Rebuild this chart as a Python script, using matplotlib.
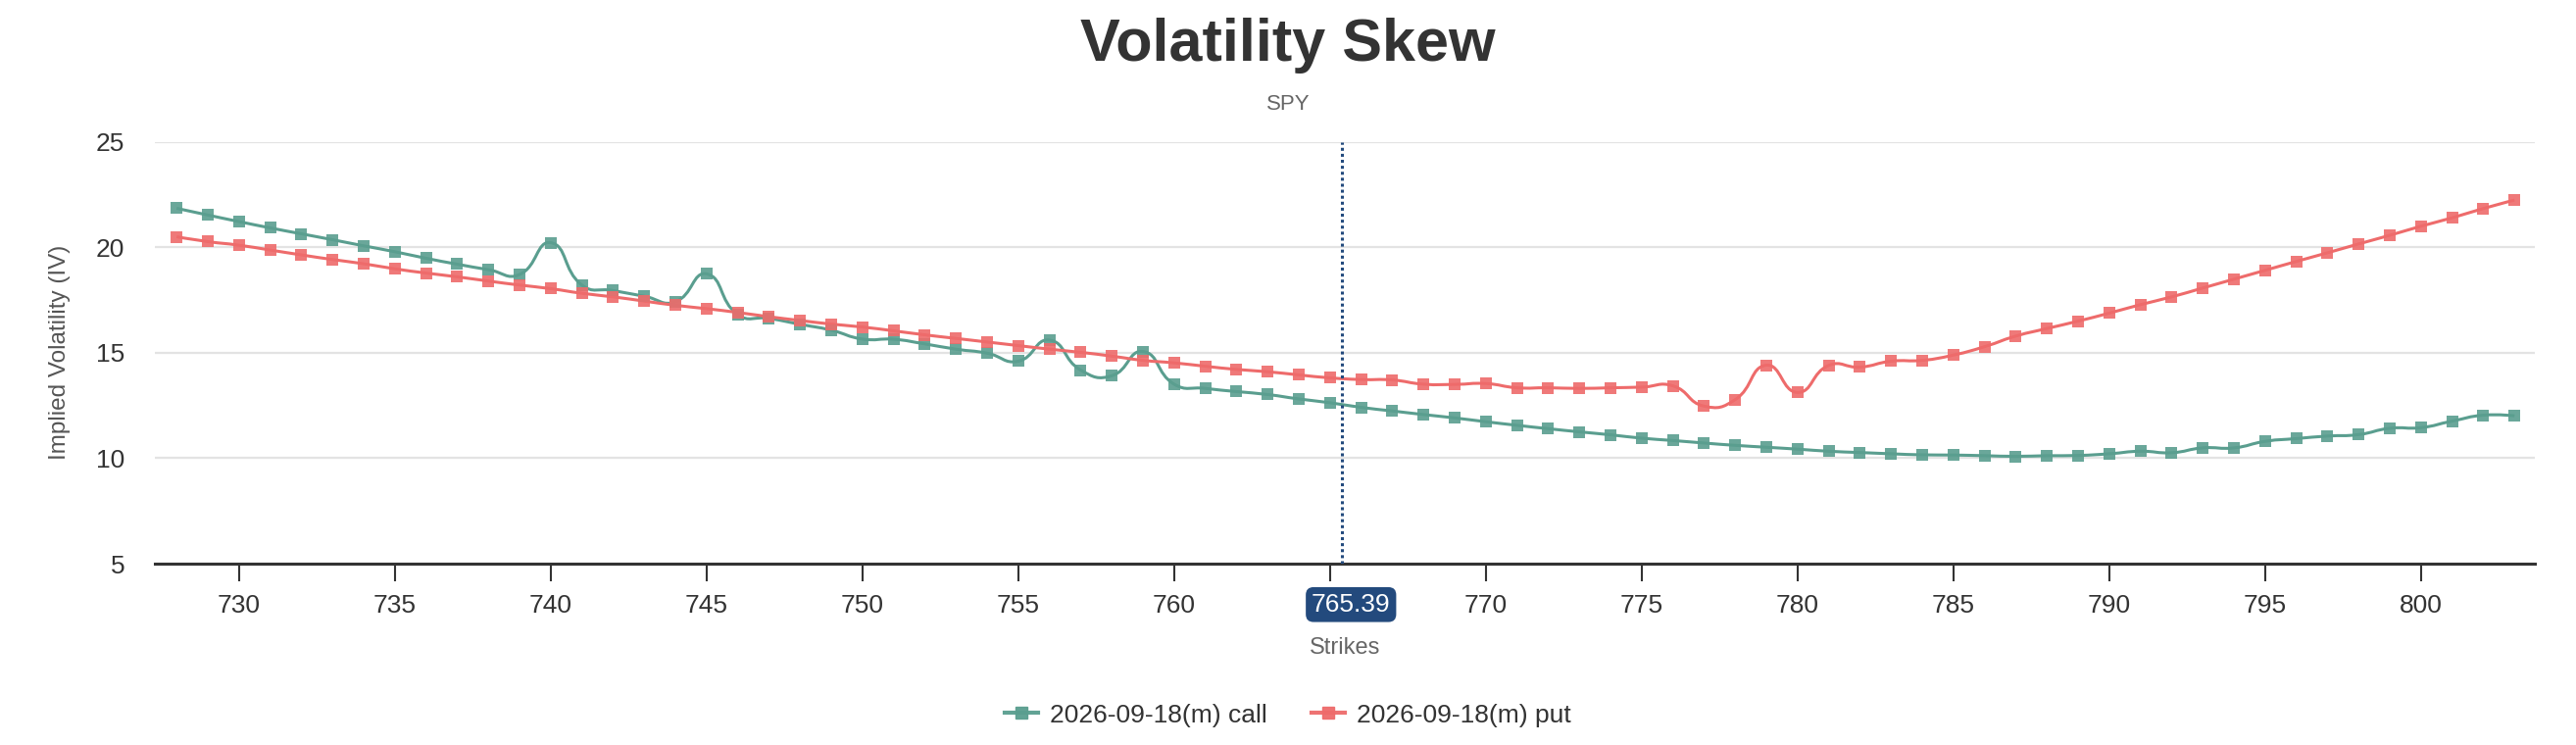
import numpy as np
import matplotlib.pyplot as plt
from matplotlib.path import Path
from matplotlib.patches import PathPatch
from matplotlib.lines import Line2D
from matplotlib.transforms import offset_copy

plt.rcParams['font.family'] = ['Liberation Sans', 'DejaVu Sans']

# datos
strikes = np.arange(728, 804)
iv_call = [
    21.85, 21.53, 21.22, 20.92, 20.64, 20.36, 20.07, 19.79, 19.48, 19.20,
    18.94, 18.71, 20.22, 18.21, 17.95, 17.68, 17.42, 18.74, 16.81, 16.63,
    16.35, 16.07, 15.65, 15.64, 15.42, 15.17, 14.98, 14.60, 15.60, 14.18,
    13.91, 15.06, 13.51, 13.31, 13.16, 13.02, 12.81, 12.63, 12.41, 12.24,
    12.07, 11.91, 11.73, 11.56, 11.40, 11.25, 11.11, 10.95, 10.84, 10.72,
    10.61, 10.52, 10.43, 10.33, 10.27, 10.21, 10.16, 10.15, 10.12, 10.09,
    10.12, 10.13, 10.21, 10.33, 10.26, 10.49, 10.49, 10.80, 10.93, 11.05,
    11.12, 11.42, 11.45, 11.76, 12.04, 12.01,
]
iv_put = [
    20.50, 20.27, 20.10, 19.87, 19.64, 19.42, 19.22, 18.98, 18.78, 18.60,
    18.40, 18.21, 18.04, 17.82, 17.65, 17.45, 17.25, 17.09, 16.91, 16.71,
    16.53, 16.36, 16.22, 16.04, 15.85, 15.68, 15.51, 15.34, 15.17, 15.02,
    14.84, 14.64, 14.52, 14.36, 14.21, 14.10, 13.95, 13.81, 13.73, 13.71,
    13.51, 13.50, 13.54, 13.34, 13.34, 13.31, 13.34, 13.37, 13.43, 12.47,
    12.78, 14.41, 13.12, 14.40, 14.32, 14.60, 14.64, 14.89, 15.29, 15.79,
    16.15, 16.50, 16.88, 17.28, 17.65, 18.07, 18.49, 18.91, 19.33, 19.74,
    20.16, 20.57, 21.00, 21.40, 21.84, 22.24,
]
spot = 765.39
ticker = "SPY"
expiry = "2026-09-18(m)"

COLOR_CALL = "#5a9e8f"
COLOR_PUT = "#ee6b6b"
COLOR_SPOT = "#234a7d"


def curva_suave(x, y, smooth=0.5, sx=31.8, sy=21.5):
    """Bezier tipo echarts (smooth) en coordenadas de datos."""
    x = np.asarray(x, float)
    y = np.asarray(y, float)
    n = len(x)
    cp_in = np.zeros((n, 2))
    cp_out = np.zeros((n, 2))
    for i in range(n):
        cur = np.array([x[i], y[i]])
        if i == 0 or i == n - 1:
            cp_in[i] = cur
            cp_out[i] = cur
            continue
        prev = np.array([x[i - 1], y[i - 1]])
        nxt = np.array([x[i + 1], y[i + 1]])
        v = nxt - prev
        d0 = np.hypot((cur[0] - prev[0]) * sx, (cur[1] - prev[1]) * sy)
        d1 = np.hypot((nxt[0] - cur[0]) * sx, (nxt[1] - cur[1]) * sy)
        tot = d0 + d1 if d0 + d1 > 0 else 1.0
        cp_in[i] = cur - v * smooth * d0 / tot
        cp_out[i] = cur + v * smooth * d1 / tot
    verts = [(x[0], y[0])]
    codes = [Path.MOVETO]
    for i in range(n - 1):
        verts += [tuple(cp_out[i]), tuple(cp_in[i + 1]), (x[i + 1], y[i + 1])]
        codes += [Path.CURVE4] * 3
    return Path(verts, codes)


fig = plt.figure(figsize=(26.28, 7.6), dpi=100)
ax = fig.add_axes([0.0601, 0.2434, 0.9239, 0.5662])

for serie, color in [(iv_call, COLOR_CALL), (iv_put, COLOR_PUT)]:
    ax.add_patch(PathPatch(curva_suave(strikes, serie), fill=False,
                           edgecolor=color, lw=2.2, zorder=3))
    ax.plot(strikes, serie, ls="none", marker="s", ms=8.5, color=color,
            alpha=0.9, mew=0, zorder=4)

ax.axvline(spot, ymin=0, ymax=1, color=COLOR_SPOT, lw=2.2,
           ls=(0, (1, 1)), zorder=5)

ax.set_xlim(727.3, 803.65)
ax.set_ylim(5, 25)
ax.set_yticks([5, 10, 15, 20, 25])
ax.grid(axis="y", color="#e3e3e3", lw=1.6)
ax.set_axisbelow(True)

xt = list(range(730, 801, 5))
ax.set_xticks(xt)
ax.set_xticklabels(["" if t == 765 else str(t) for t in xt])
ax.tick_params(axis="x", length=13, width=1.5, color="#333333", pad=9,
               labelsize=19, labelcolor="#333333")
ax.tick_params(axis="y", length=0, pad=22, labelsize=19, labelcolor="#333333")

for s in ["top", "right", "left"]:
    ax.spines[s].set_visible(False)
ax.spines["bottom"].set_color("#333333")
ax.spines["bottom"].set_linewidth(2.2)

# etiqueta del spot sobre el eje
trans = offset_copy(ax.get_xaxis_transform(), fig=fig, x=6.5, y=0, units="points")
ax.text(spot, -0.097, f"{spot:.2f}", transform=trans, ha="center", va="center",
        fontsize=19, color="white", zorder=6,
        bbox=dict(boxstyle="round,pad=0.22,rounding_size=0.3",
                  fc=COLOR_SPOT, ec="none"))

ax.set_xlabel("Strikes", fontsize=17, color="#666666")
ax.xaxis.set_label_coords(0.5, -0.175)
ax.xaxis.label.set_va("top")
ax.set_ylabel("Implied Volatility (IV)", fontsize=17.5, color="#555555")
ax.yaxis.set_label_coords(-0.0354, 0.5)

fig.text(0.5, 0.918, "Volatility Skew", ha="center", va="baseline",
         fontsize=44, fontweight="bold", color="#333333")
fig.text(0.5, 0.853, ticker, ha="center", va="baseline",
         fontsize=16, color="#666666")

handles = [
    Line2D([], [], color=COLOR_CALL, lw=3, marker="s", ms=9, alpha=0.95),
    Line2D([], [], color=COLOR_PUT, lw=3, marker="s", ms=9, alpha=0.95),
]
fig.legend(handles, [f"{expiry} call", f"{expiry} put"], loc="center",
           bbox_to_anchor=(0.5, 0.04), ncol=2, frameon=False, fontsize=19,
           handlelength=1.3, handletextpad=0.45, columnspacing=1.7,
           labelcolor="#333333")

fig.savefig("out.png", dpi=100)
